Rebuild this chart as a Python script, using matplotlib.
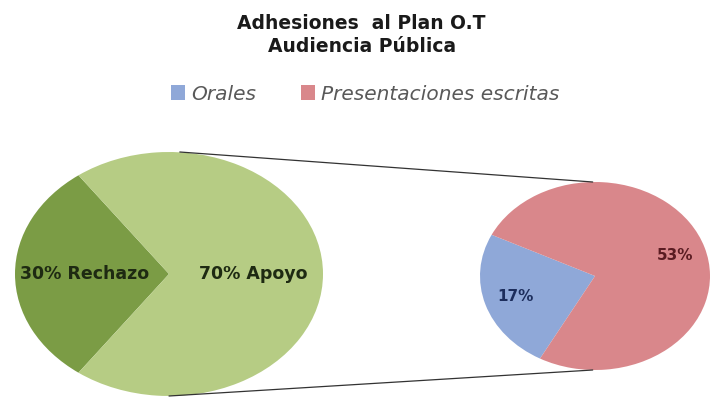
import matplotlib.pyplot as plt
from matplotlib.patches import ConnectionPatch

# main pie
main_labels = ["Rechazo", "Apoyo"]
main_values = [30, 70]
main_colors = ["#7b9c45", "#b6cc84"]

# breakdown of "Apoyo"
sub_labels = ["Orales", "Presentaciones escritas"]
sub_values = [17, 53]
sub_colors = ["#8fa8d8", "#d9878b"]
sub_text_colors = ["#1c2d5c", "#5a1c22"]

title = "Adhesiones  al Plan O.T\nAudiencia Pública"

plt.rcParams["font.family"] = ["DejaVu Sans"]

W, H = 716, 400
fig = plt.figure(figsize=(W / 100, H / 100), dpi=100)
fig.patch.set_facecolor("white")

# axes boxes in pixels (left, top, width, height) -> stretched pies
ax_main = fig.add_axes([15 / W, 1 - 396 / H, 308 / W, 244 / H])
ax_sub = fig.add_axes([480 / W, 1 - 370 / H, 230 / W, 188 / H])

wedges_main, _, pct_main = ax_main.pie(
    main_values,
    colors=main_colors,
    startangle=126,
    autopct=lambda p: "",
    pctdistance=0.55,
    wedgeprops={"linewidth": 0},
)
for t, name, v in zip(pct_main, main_labels, main_values):
    t.set_text(f"{v}% {name}")
    t.set_fontweight("bold")
    t.set_fontsize(12.5)
    t.set_color("#1e2a12")

total_sub = sum(sub_values)
wedges_sub, _, pct_sub = ax_sub.pie(
    sub_values,
    colors=sub_colors,
    startangle=154,
    autopct=lambda p: f"{p * total_sub / 100:.0f}%",
    pctdistance=0.73,
    wedgeprops={"linewidth": 0},
)
for t, c in zip(pct_sub, sub_text_colors):
    t.set_fontweight("bold")
    t.set_fontsize(11)
    t.set_color(c)

for ax in (ax_main, ax_sub):
    ax.set_aspect("auto")
    ax.set_xlim(-1, 1)
    ax.set_ylim(-1, 1)
    ax.axis("off")

# connector lines between the two pies
for ya, yb, xa in [(1, 1, 0.07), (-1, -1, 0.0)]:
    con = ConnectionPatch(
        xyA=(xa, ya), coordsA=ax_main.transData,
        xyB=(-0.02, yb), coordsB=ax_sub.transData,
        color="#333333", linewidth=0.9,
    )
    fig.add_artist(con)

fig.text(0.505, 1 - 35 / H, title, ha="center", va="center",
         fontsize=13.5, fontweight="bold", color="#1a1a1a", linespacing=1.3)

leg = fig.legend(
    wedges_sub, sub_labels,
    loc="center", bbox_to_anchor=(0.51, 1 - 94 / H),
    ncol=2, frameon=False,
    handlelength=0.7, handleheight=0.7, handletextpad=0.3,
    columnspacing=2.2,
    prop={"style": "italic", "size": 14.5},
)
for t in leg.get_texts():
    t.set_color("#595959")

fig.savefig("out.png", dpi=100, facecolor="white")
